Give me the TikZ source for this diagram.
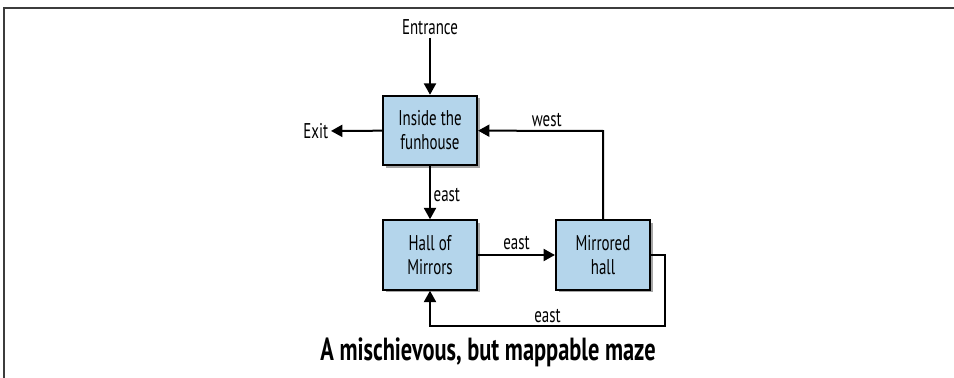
\documentclass[tikz,border=0pt]{standalone}
\usepackage{fontspec}
\setmainfont{PT Sans}[FakeStretch=0.7]
\usetikzlibrary{arrows.meta,shadows}
\definecolor{roomblue}{RGB}{180,213,235}
\definecolor{framegray}{RGB}{60,60,60}
\begin{document}
\begin{tikzpicture}[x=0.75pt,y=-0.75pt,
  room/.style={draw=black,line width=1.6pt,fill=roomblue,minimum width=70.5pt,minimum height=52pt,inner sep=0pt,align=center,font=\fontsize{16}{18}\selectfont,drop shadow={shadow xshift=2pt,shadow yshift=-2pt,opacity=0.35,fill=black}},
  lbl/.style={font=\fontsize{16}{18}\selectfont,inner sep=2pt},
  move/.style={line width=1.5pt,-{Triangle[length=8.5pt,width=9pt]}},
  loop/.style={line width=1.5pt}]
\useasboundingbox (0,0) rectangle (954,378);
\draw[framegray,line width=1.8pt] (4,378) -- (4,8) -- (954,8);
% rooms
\node[room] (IN) at (430,130.5) {Inside the\\funhouse};
\node[room] (HM) at (430,255) {Hall of\\Mirrors};
\node[room] (MH) at (603,255) {Mirrored\\hall};
% ways in and out
\node[lbl] (EN) at (430,27) {Entrance};
\node[lbl,anchor=east] (EX) at (331,131) {Exit};
\coordinate (MHr) at (665,255);
\coordinate (MHb) at (665,326);
\coordinate (HMb) at (430,326);
\coordinate (MHt) at (603,131);
\draw[move] (EN) -- (IN);
\draw[move] (IN) -- (EX);
\draw[move] (IN) to node[lbl,midway,right,yshift=-2pt]{east} (HM);
\draw[move] (HM) to node[lbl,midway,above,yshift=1pt]{east} (MH);
\draw[move] (MH) -- (MHt) to node[lbl,pos=0.45,above]{west} (IN);
\draw[move] (MH.east) -- (MHr) -- (MHb) to node[lbl,midway,above]{east} (HMb) -- (HM);
\node[font=\bfseries\fontsize{24}{26}\selectfont] (CAP) at (488,352) {A mischievous, but mappable maze};
\end{tikzpicture}
\end{document}
